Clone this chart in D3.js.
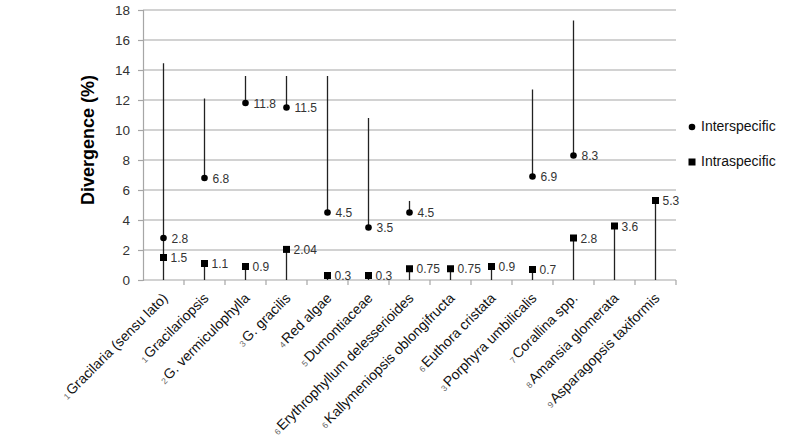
<!DOCTYPE html>
<html>
<head>
<meta charset="utf-8">
<script src="https://cdn.jsdelivr.net/npm/d3@7"></script>
<style>
body { margin: 0; background: #fff; }
svg text { font-family: Arial, "Liberation Sans", sans-serif; }
</style>
</head>
<body>
<div id="chart"></div>
<script>
let categories = ["Gracilaria (sensu lato)", "Gracilariopsis", "G. vermiculophylla", "G. gracilis", "Red algae",
	"Dumontiaceae", "Erythrophyllum delesserioides", "Kallymeniopsis oblongifructa", "Euthora cristata",
	"Porphyra umbilicalis", "Corallina spp.", "Amansia glomerata", "Asparagopsis taxiformis"]
let refs = ["1", "1", "2", "3", "4", "5", "6", "6", "6", "3", "7", "8", "9"]
let interspecific = [2.8, 6.8, 11.8, 11.5, 4.5, 3.5, 4.5, null, null, 6.9, 8.3, null, null]
let interLow = [1.5, 6.8, 11.8, 11.5, 4.5, 3.5, 4.5, null, null, 6.9, 8.3, null, null]
let interHigh = [14.45, 12.1, 13.6, 13.6, 13.6, 10.8, 5.27, null, null, 12.7, 17.3, null, null]
let intraspecific = [1.5, 1.1, 0.9, 2.04, 0.3, 0.3, 0.75, 0.75, 0.9, 0.7, 2.8, 3.6, 5.3]
let yTicks = [0, 2, 4, 6, 8, 10, 12, 14, 16, 18]

let w = 792
let h = 445
let plotLeft = 143, plotRight = 676, plotTop = 10, plotBottom = 280

let svg = d3.select("#chart").append("svg")
	.attr("width", w)
	.attr("height", h)

let x = d3.scaleBand()
	.domain(categories)
	.range([plotLeft, plotRight])

let y = d3.scaleLinear()
	.domain([0, 18])
	.range([plotBottom, plotTop])

let cx = d => x(d) + x.bandwidth() / 2

// gridlines
svg.append("g")
	.selectAll("line")
	.data(yTicks.slice(1))
	.join("line")
	.attr("x1", plotLeft)
	.attr("x2", plotRight)
	.attr("y1", d => y(d))
	.attr("y2", d => y(d))
	.attr("stroke", "#a6a6a6")
	.attr("stroke-width", 1.2)

// y axis
let yAxis = svg.append("g")
	.attr("transform", "translate(" + plotLeft + ",0)")
	.call(d3.axisLeft(y).tickValues(yTicks).tickSize(5).tickPadding(8))
yAxis.selectAll("line, path").attr("stroke", "#a6a6a6").attr("stroke-width", 1.2)
yAxis.selectAll("text").attr("font-size", 13.5).attr("fill", "#333").style("font-family", "Arial, 'Liberation Sans', sans-serif")

// x axis
let xAxis = svg.append("g")
	.attr("transform", "translate(0," + plotBottom + ")")
xAxis.append("line")
	.attr("x1", plotLeft).attr("x2", plotRight)
	.attr("y1", 0).attr("y2", 0)
	.attr("stroke", "#a6a6a6").attr("stroke-width", 1.2)
xAxis.selectAll("line.tick")
	.data(categories)
	.join("line")
	.attr("class", "tick")
	.attr("x1", d => x(d) + x.bandwidth())
	.attr("x2", d => x(d) + x.bandwidth())
	.attr("y1", 0).attr("y2", 5)
	.attr("stroke", "#a6a6a6").attr("stroke-width", 1.2)

let xl = xAxis.selectAll("text")
	.data(categories)
	.join("text")
	.attr("transform", d => "translate(" + (cx(d) + 5) + ",19) rotate(-45)")
	.attr("text-anchor", "end")
	.attr("font-size", 14)
	.attr("fill", "#111")
xl.append("tspan")
	.attr("font-size", 8.5)
	.attr("fill", "#666")
	.text((d, i) => refs[i])
xl.append("tspan")
	.attr("dx", 1.5)
	.text(d => d)

// y title
svg.append("text")
	.attr("transform", "translate(94,140) rotate(-90)")
	.attr("text-anchor", "middle")
	.attr("font-size", 18)
	.attr("font-weight", "bold")
	.attr("fill", "#000")
	.text("Divergence (%)")

let interData = categories.map((c, i) => ({c, v: interspecific[i], lo: interLow[i], hi: interHigh[i]})).filter(d => d.v != null)
let intraData = categories.map((c, i) => ({c, v: intraspecific[i]}))

// interspecific range lines
svg.append("g")
	.selectAll("line")
	.data(interData)
	.join("line")
	.attr("x1", d => cx(d.c)).attr("x2", d => cx(d.c))
	.attr("y1", d => y(d.lo)).attr("y2", d => y(d.hi))
	.attr("stroke", "#222").attr("stroke-width", 1.3)

// intraspecific stems
svg.append("g")
	.selectAll("line")
	.data(intraData)
	.join("line")
	.attr("x1", d => cx(d.c)).attr("x2", d => cx(d.c))
	.attr("y1", y(0)).attr("y2", d => y(d.v))
	.attr("stroke", "#222").attr("stroke-width", 1.3)

// markers
svg.append("g")
	.selectAll("circle")
	.data(interData)
	.join("circle")
	.attr("cx", d => cx(d.c))
	.attr("cy", d => y(d.v))
	.attr("r", 3.3)
	.attr("fill", "#000")

svg.append("g")
	.selectAll("rect")
	.data(intraData)
	.join("rect")
	.attr("x", d => cx(d.c) - 3.5)
	.attr("y", d => y(d.v) - 3.5)
	.attr("width", 7)
	.attr("height", 7)
	.attr("fill", "#000")

// data labels
svg.append("g")
	.selectAll("text")
	.data(interData)
	.join("text")
	.attr("x", d => cx(d.c) + 8)
	.attr("y", d => y(d.v) + 4.5)
	.attr("font-size", 12)
	.attr("fill", "#333")
	.text(d => d.v)

svg.append("g")
	.selectAll("text")
	.data(intraData)
	.join("text")
	.attr("x", d => cx(d.c) + 7)
	.attr("y", d => y(d.v) + 4.5)
	.attr("font-size", 12)
	.attr("fill", "#333")
	.text(d => d.v)

// legend
let legend = svg.append("g")
legend.append("circle")
	.attr("cx", 692).attr("cy", 127).attr("r", 3.3).attr("fill", "#000")
legend.append("text")
	.attr("x", 701).attr("y", 131)
	.attr("font-size", 14).attr("fill", "#111")
	.text("Interspecific")
legend.append("rect")
	.attr("x", 688.5).attr("y", 158.5).attr("width", 7).attr("height", 7).attr("fill", "#000")
legend.append("text")
	.attr("x", 701).attr("y", 166)
	.attr("font-size", 14).attr("fill", "#111")
	.text("Intraspecific")
</script>
</body>
</html>
